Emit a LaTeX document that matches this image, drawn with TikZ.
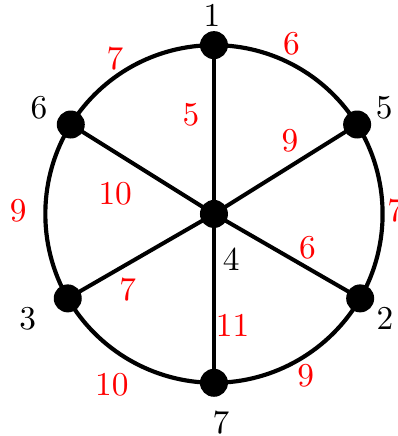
\documentclass[tikz,border=0pt]{standalone}
\usepackage{tikz}
\usetikzlibrary{positioning, backgrounds}
\tikzset{
    vtx/.style={
        circle, fill=black, inner sep=0pt, minimum size=8.4pt
    },
    vlabel/.style={
        font=\normalsize, text=black, anchor=center, inner sep=2pt
    },
    wt/.style={
        font=\normalsize, text=red, inner sep=2pt
    },
    rim/.style={
        line width=1.25pt, draw=black, bend left=#1, looseness=0.91
    },
    spoke/.style={
        line width=1.2pt, draw=black
    },
}

\begin{document}
\begin{tikzpicture}
\useasboundingbox (-2.256,-2.341) rectangle (1.930,2.256);

% ---- vertices ----
\node[vtx, label={[vlabel, label distance=10pt]-69:4}]  (n4) at (0,0) {};
\node[vtx, label={[vlabel, label distance=4.6pt]94:1}]  (n1) at (90:1.78) {};
\node[vtx, label={[vlabel, label distance=5.2pt]32:5}]  (n5) at (32:1.78) {};
\node[vtx, label={[vlabel, label distance=5.2pt]-39:2}] (n2) at (-30:1.78) {};
\node[vtx, label={[vlabel, label distance=7.6pt]-80:7}] (n7) at (-90:1.78) {};
\node[vtx, label={[vlabel, label distance=9.1pt]207:3}] (n3) at (210:1.78) {};
\node[vtx, label={[vlabel, label distance=6.4pt]152:6}] (n6) at (148:1.78) {};

\begin{scope}[on background layer]
    % ---- outer ring ----
    \draw[rim=29] (n1.center) to node[wt, pos=0.47, above] (w15) {6} (n5.center);
    \draw[rim=31] (n5.center) to node[wt, pos=0.5, right=-1.2pt] (w52) {7} (n2.center);
    \draw[rim=30] (n2.center) to node[wt, pos=0.45, below] (w27) {9} (n7.center);
    \draw[rim=30] (n7.center) to node[wt, pos=0.45, below left] (w73) {10} (n3.center);
    \draw[rim=31] (n3.center) to node[wt, pos=0.5, left=3pt] (w36) {9} (n6.center);
    \draw[rim=29] (n6.center) to node[wt, pos=0.6, left=4.6pt] (w61) {7} (n1.center);

    % ---- spokes ----
    \draw[spoke] (n4.center) -- node[wt, pos=0.59, left=1.8pt] (w41) {5} (n1.center);
    \draw[spoke] (n4.center) -- node[wt, pos=0.53, above=1.8pt] (w45) {9} (n5.center);
    \draw[spoke] (n4.center) -- node[wt, pos=0.64, above] (w42) {6} (n2.center);
    \draw[spoke] (n4.center) -- node[wt, pos=0.66, right=-2pt] (w47) {11} (n7.center);
    \draw[spoke] (n4.center) -- node[wt, pos=0.59, below=1.7pt] (w43) {7} (n3.center);
    \draw[spoke] (n4.center) -- node[wt, pos=0.69, below=6.5pt] (w46) {10} (n6.center);
\end{scope}

\end{tikzpicture}
\end{document}
